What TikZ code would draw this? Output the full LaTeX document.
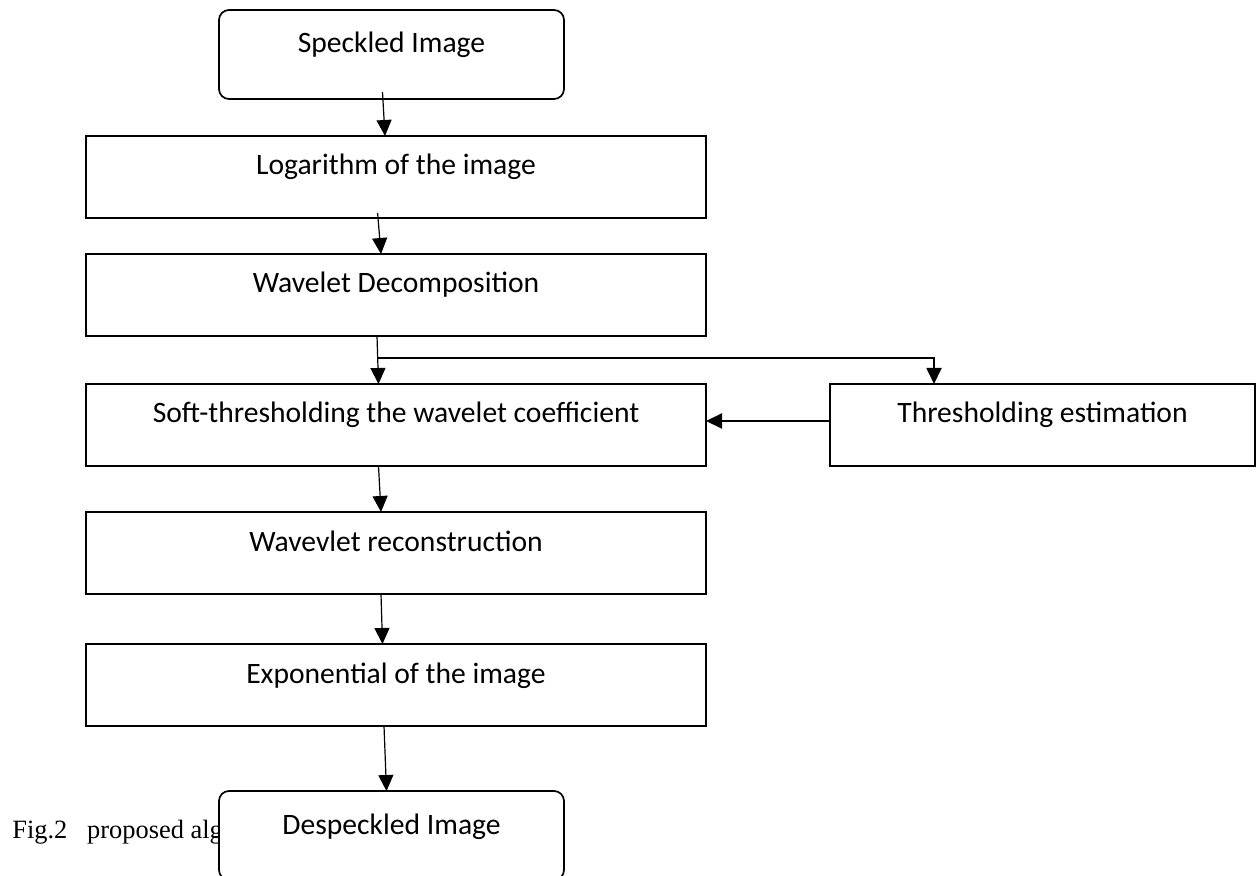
\documentclass[tikz,border=0pt]{standalone}
\usepackage{fontspec}
\setmainfont{Carlito}
\newfontfamily\capfont{Liberation Serif}
\usetikzlibrary{arrows.meta,positioning}
\tikzset{
  rund/.style={
    rounded corners=5pt,
    draw=black,
    fill=white,
    line width=.85pt,
    outer sep=0pt,
    minimum width=172.5pt,
    text height=17.5pt,
    text depth=19pt,
    inner ysep=4pt,
    font=\fontsize{14.8}{17}\selectfont
  },
  kasten/.style={
    draw=black,
    fill=white,
    line width=.85pt,
    outer sep=0pt,
    minimum width=310pt,
    text height=15.5pt,
    text depth=17.5pt,
    inner ysep=4pt,
    font=\fontsize{14.8}{17}\selectfont
  },
  pfeil/.style={
    -{Triangle[length=8pt,width=7.5pt]},
    line width=.6pt
  }
}

\begin{document}
\begin{tikzpicture}
\useasboundingbox (0,0) rectangle (628.5pt,-438pt);
\clip (0,0) rectangle (628.5pt,-438pt);
\node[rund,anchor=north] (spk) at (195.75pt,-5pt) {Speckled Image};
\node[kasten,below=18.5pt of spk,xshift=2.25pt] (log) {Logarithm of the image};
\node[kasten,below=18pt of log] (dec) {Wavelet Decomposition};
\node[kasten,below=24pt of dec] (soft) {Soft-thresholding the wavelet coefficient};
\node[kasten,minimum width=212.5pt,right=62pt of soft] (thr) {Thresholding estimation};
\node[kasten,below=23pt of soft] (rec) {Wavevlet reconstruction};
\node[kasten,below=25pt of rec] (expo) {Exponential of the image};
% caption first, the box hides its end
\node[anchor=base west,inner sep=0pt,font=\capfont\fontsize{13.2}{15}\selectfont] (cap) at (6pt,-419pt) {Fig.2~~~proposed alg};
\node[rund,below=32.5pt of expo,xshift=-2.25pt] (desp) {Despeckled Image};
\coordinate (gabel) at ([shift={(-9.5pt,-11pt)}]dec.south);
\draw[pfeil] ([shift={(-4.5pt,3.5pt)}]spk.south) -- ([xshift=-5.5pt]log.north);
\draw[pfeil] ([shift={(-9.2pt,2.5pt)}]log.south) -- ([xshift=-7.5pt]dec.north);
\draw[pfeil] ([xshift=-9.5pt]dec.south) -- ([xshift=-8.75pt]soft.north);
\draw[pfeil,line width=.9pt] (gabel) -| ([xshift=-54.25pt]thr.north);
\draw[pfeil,line width=1pt] ([yshift=2pt]thr.west) -- ([yshift=2pt]soft.east);
\draw[pfeil] ([xshift=-8.75pt]soft.south) -- ([xshift=-7.5pt]rec.north);
\draw[pfeil] ([xshift=-7.5pt]rec.south) -- ([xshift=-6.75pt]expo.north);
\draw[pfeil] ([xshift=-6pt]expo.south) -- ([xshift=-2.5pt]desp.north);
\end{tikzpicture}
\end{document}
